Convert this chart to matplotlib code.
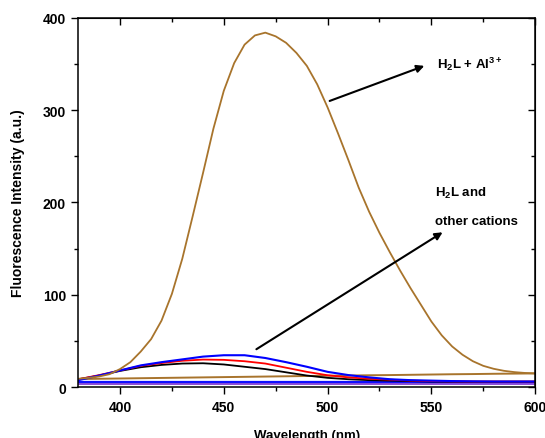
from matplotlib import pyplot as plt
import matplotlib.ticker as ticker
import numpy as np

plt.rcParams['font.family'] = ['Liberation Sans', 'DejaVu Sans']
plt.rcParams['font.weight'] = 'bold'
plt.rcParams['mathtext.fontset'] = 'custom'
plt.rcParams['mathtext.rm'] = 'Liberation Sans:bold'
plt.rcParams['mathtext.bf'] = 'Liberation Sans:bold'
plt.rcParams['mathtext.default'] = 'bf'

# H2L + Al3+ (5 nm steps)
wl_al = np.arange(380, 601, 5)
al = [9, 10, 11.5, 14, 19.5, 27, 38.5, 52, 72, 101, 139, 185, 232, 280, 321,
      351, 371, 381, 384, 380, 373, 362, 348, 328, 303, 275, 246, 216, 190,
      167, 146, 126, 107, 89, 71, 56, 44, 35, 28, 23, 19.8, 17.6, 16.2,
      15.3, 14.8]

# H2L and other cations (10 nm steps)
wl = np.arange(380, 601, 10)
blue = [7.5, 12.5, 18, 23.5, 27, 30, 33, 34.5, 34.5, 31.5, 27, 22, 16.5, 13,
        10.5, 8.5, 7.5, 7, 6.5, 6.2, 6, 6, 6]
red = [8.5, 13, 18, 23, 26, 28.5, 29.8, 29.5, 28, 25.5, 21, 16.5, 12.8, 10.5,
       9, 8, 7, 6.5, 6.2, 6, 6, 6, 6]
black = [8.5, 12.5, 17.5, 21.5, 24, 25.5, 25.8, 24.5, 22, 19.5, 16, 12.5, 10,
         8.5, 7.5, 7, 6.5, 6, 5.9, 5.8, 5.8, 5.8, 5.8]
flat_brown = [8.7, 9, 9.3, 9.6, 9.9, 10.2, 10.5, 10.8, 11.1, 11.4, 11.7, 12,
              12.3, 12.5, 12.8, 13, 13.3, 13.6, 13.9, 14.1, 14.4, 14.6, 14.8]
flat_blue = [5.6] * len(wl)
flat_purple = [3.4] * len(wl)

brown = '#A8742C'

fig = plt.figure(figsize=(5.45, 4.39), dpi=100)
ax = fig.add_axes([0.144, 0.116, 0.838, 0.841])

ax.plot(wl, flat_purple, color='#7B2FD0', linewidth=1.2)
ax.plot(wl, flat_blue, color='#1010FF', linewidth=1.6)
ax.plot(wl, flat_brown, color=brown, linewidth=1.4)
ax.plot(wl, black, color='black', linewidth=1.3)
ax.plot(wl, red, color='red', linewidth=1.3)
ax.plot(wl, blue, color='#0000FF', linewidth=1.5)
ax.plot(wl_al, al, color=brown, linewidth=1.3)

ax.set_xlim(380, 600)
ax.set_ylim(0, 400)
ax.xaxis.set_major_locator(ticker.MultipleLocator(50))
ax.xaxis.set_minor_locator(ticker.MultipleLocator(25))
ax.yaxis.set_major_locator(ticker.MultipleLocator(100))
ax.yaxis.set_minor_locator(ticker.MultipleLocator(50))
ax.tick_params(which='major', direction='out', length=5, width=1,
               labelsize=10, pad=4)
ax.tick_params(which='minor', direction='out', length=3, width=1)
for lab in ax.get_xticklabels() + ax.get_yticklabels():
    lab.set_fontweight('bold')
for s in ax.spines.values():
    s.set_linewidth(1.1)

# mirrored ticks pointing inward on top and right
top = ax.secondary_xaxis('top')
top.xaxis.set_major_locator(ticker.MultipleLocator(50))
top.xaxis.set_minor_locator(ticker.MultipleLocator(25))
top.tick_params(which='major', direction='in', length=5, width=1, labeltop=False)
top.tick_params(which='minor', direction='in', length=3, width=1)
right = ax.secondary_yaxis('right')
right.yaxis.set_major_locator(ticker.MultipleLocator(100))
right.yaxis.set_minor_locator(ticker.MultipleLocator(50))
right.tick_params(which='major', direction='in', length=5, width=1, labelright=False)
right.tick_params(which='minor', direction='in', length=3, width=1)

ax.set_xlabel('Wavelength (nm)', fontsize=9.5, fontweight='bold', labelpad=11)
ax.set_ylabel('Fluorescence Intensity (a.u.)', fontsize=10, fontweight='bold', labelpad=13)

ax.annotate('', xy=(546.6, 348), xytext=(501, 310),
            arrowprops=dict(arrowstyle='-|>', color='black', lw=1.5,
                            mutation_scale=11, shrinkA=0, shrinkB=0))
ax.annotate('', xy=(555.4, 167.7), xytext=(465.7, 41),
            arrowprops=dict(arrowstyle='-|>', color='black', lw=1.5,
                            mutation_scale=11, shrinkA=0, shrinkB=0))

ax.text(552.5, 351, 'H$_2$L + Al$^{3+}$', fontsize=9.5, fontweight='bold',
        va='center', ha='left')
ax.text(551.5, 211, 'H$_2$L and', fontsize=9.5, fontweight='bold',
        va='center', ha='left')
ax.text(551.5, 180, 'other cations', fontsize=9.5, fontweight='bold',
        va='center', ha='left')

plt.savefig('out.png', dpi=100)
